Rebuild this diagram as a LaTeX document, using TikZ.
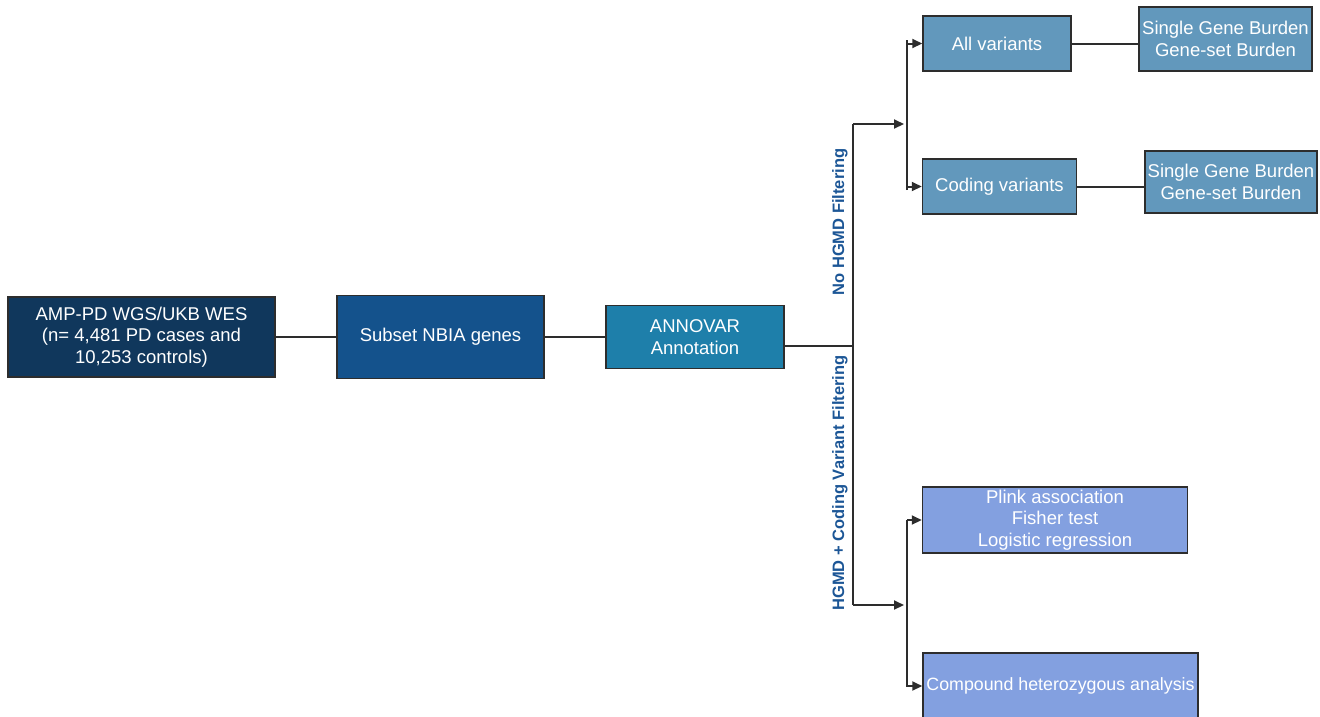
\documentclass[tikz,border=0pt]{standalone}
\usepackage{fontspec}
\setmainfont{Liberation Sans}
\usepackage{xcolor}
\usepackage{tikz}
\usetikzlibrary{arrows.meta,positioning,calc}
\definecolor{navy}{RGB}{16,55,92}
\definecolor{midblue}{RGB}{20,82,140}
\definecolor{teal}{RGB}{30,127,170}
\definecolor{steel}{RGB}{98,152,188}
\definecolor{peri}{RGB}{131,160,224}
\definecolor{lblblue}{RGB}{28,86,150}
\definecolor{edge}{RGB}{45,45,45}
\tikzset{
  stepbox/.style={rectangle, draw=edge, line width=1.5pt, text=white,
                  align=center, font=\fontsize{18.5}{21.5}\selectfont,
                  inner xsep=0pt, inner ysep=2pt},
  conn/.style={draw=edge, line width=2pt},
  arr/.style={conn, -{Triangle[length=10pt,width=9pt]}},
  branchlbl/.style={font=\bfseries\fontsize{16.5}{19}\selectfont,
                    text=lblblue, rotate=90, inner sep=0pt},
}

\begin{document}
\begin{tikzpicture}[x=1pt,y=-1pt]
  \useasboundingbox (0,0) rectangle (1320,716);
  % main pipeline
  \node[stepbox, fill=navy, minimum width=267pt, minimum height=80pt] (src) at (141.5,337)
       {AMP-PD WGS/UKB WES\\(n= 4,481 PD cases and\\10,253 controls)};
  \node[stepbox, fill=midblue, minimum width=207pt, minimum height=83pt] (subset) at (440.5,337)
       {Subset NBIA genes};
  \node[stepbox, fill=teal, minimum width=178pt, minimum height=63pt] (annovar) at (695,337)
       {ANNOVAR\\Annotation};
  \draw[conn] (src) -- (subset);
  \draw[conn] (subset) -- (annovar);
  % trunk
  \coordinate (jn) at (853,346);
  \coordinate (topfork) at (853,124);
  \coordinate (botfork) at (853,605);
  \draw[conn] ([yshift=-9pt]annovar.east) -- (jn);
  \draw[conn] (topfork) -- (botfork);
  \coordinate (forkA) at (904,124);
  \coordinate (forkB) at (904,605);
  \draw[arr] (topfork) -- (forkA);
  \draw[arr] (botfork) -- (forkB);
  \node[branchlbl] (nohgmd) at (840,222) {No HGMD Filtering};
  \node[branchlbl] (hgmd) at (840,483) {HGMD + Coding Variant Filtering};
  % no filtering branch
  \node[stepbox, fill=steel, minimum width=148pt, minimum height=55pt] (allvar) at (997,43.5)
       {All variants};
  \node[stepbox, fill=steel, minimum width=154pt, minimum height=55pt] (codvar) at (999.5,186.5)
       {Coding variants};
  \node[stepbox, fill=steel, minimum width=173pt, minimum height=64pt] (burA) at (1225.5,39)
       {Single Gene Burden\\Gene-set Burden};
  \node[stepbox, fill=steel, minimum width=172pt, minimum height=62pt] (burB) at (1231,182)
       {Single Gene Burden\\Gene-set Burden};
  \draw[conn] ([xshift=3pt]forkA) -- ++(0,-84) coordinate (a1) -- ++(0,150) coordinate (a2);
  \draw[arr] (a1) |- (allvar.west);
  \draw[arr] (a2) |- (codvar.west);
  \draw[conn] (allvar.east) -- (allvar.east -| burA.west);
  \draw[conn] (codvar.east) -- (codvar.east -| burB.west);
  % hgmd branch
  \node[stepbox, fill=peri, minimum width=265pt, minimum height=66pt] (plink) at (1055,520)
       {Plink association\\Fisher test\\Logistic regression};
  \node[stepbox, fill=peri, minimum width=275pt, minimum height=66pt,
        font=\fontsize{17.8}{21}\selectfont] (compound) at (1060.5,686)
       {Compound heterozygous analysis};
  \draw[conn] ([xshift=3pt]forkB) -- ++(0,-85) coordinate (b1) -- ++(0,165) coordinate (b2);
  \draw[arr] (b1) |- (plink.west);
  \draw[arr] (b2) |- (compound.west);
\end{tikzpicture}
\end{document}
